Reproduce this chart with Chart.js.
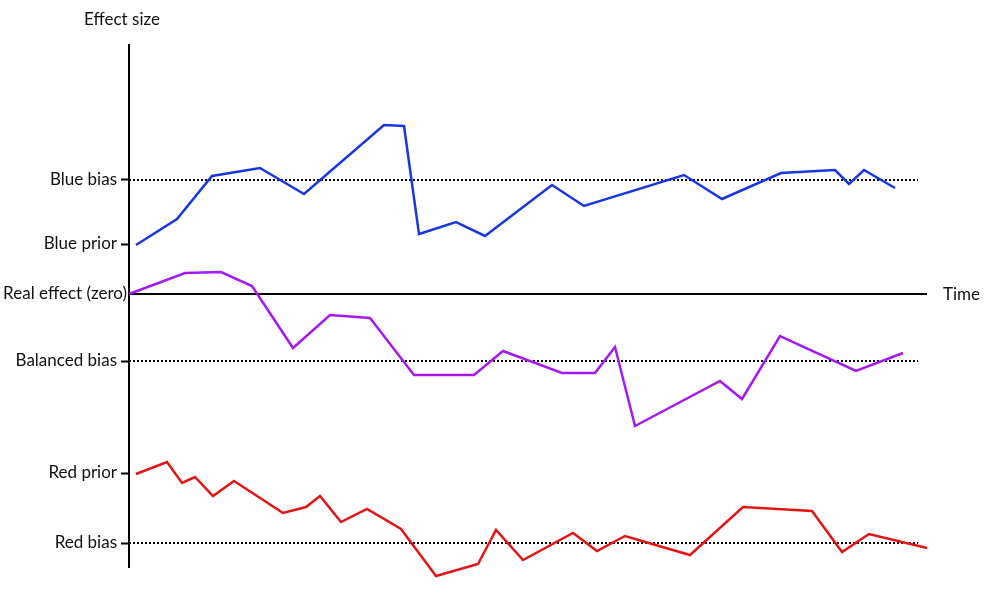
<!DOCTYPE html>
<html>
<head>
<meta charset="utf-8">
<script src="https://cdn.jsdelivr.net/npm/chart.js@4/dist/chart.umd.min.js"></script>
<style>
html, body { margin: 0; padding: 0; background: #fff; }
#wrap { width: 990px; height: 600px; position: relative; }
</style>
</head>
<body>
<div id="wrap"><canvas id="myChart"></canvas></div>
<script>
// time (x) and effect size (y)
const blueX = [0.7, 4.8, 8.3, 13.1, 17.5, 25.5, 27.5, 29.0, 32.7, 35.6, 42.3, 45.5, 55.5, 59.3, 65.2, 70.6, 72.0, 73.5, 76.6]
const blueY = [4.9, 7.5, 11.8, 12.6, 10.0, 16.9, 16.8, 6.0, 7.2, 5.8, 10.9, 8.8, 11.9, 9.5, 12.1, 12.4, 11.0, 12.4, 10.6]

const purpleX = [0, 5.6, 9.2, 12.3, 16.4, 20.1, 24.1, 28.5, 34.5, 37.4, 43.3, 46.6, 48.6, 50.6, 59.1, 61.3, 65.1, 72.7, 77.4]
const purpleY = [0, 2.1, 2.2, 0.8, -5.4, -2.1, -2.4, -8.1, -8.1, -5.7, -7.9, -7.9, -5.3, -13.2, -8.7, -10.5, -4.2, -7.7, -5.9]

const redX = [0.7, 3.8, 5.3, 6.6, 8.4, 10.5, 15.4, 17.7, 19.1, 21.2, 23.8, 27.2, 30.7, 34.9, 36.7, 39.4, 44.4, 46.8, 49.6, 56.1, 61.4, 68.3, 71.3, 74.0, 79.8]
const redY = [-18.0, -16.8, -18.9, -18.3, -20.2, -18.7, -21.9, -21.3, -20.2, -22.8, -21.5, -23.5, -28.2, -27.0, -23.6, -26.6, -23.9, -25.7, -24.2, -26.1, -21.3, -21.7, -25.8, -24.0, -25.4]

// y-axis ticks
const tickValues = [11.4, 5.0, 0, -6.7, -17.9, -24.9]
const tickNames = ['Blue bias', 'Blue prior', 'Real effect (zero)', 'Balanced bias', 'Red prior', 'Red bias']

// dotted bias levels
const biasLevels = [11.4, -6.7, -24.9]
const biasEnd = 78.9

const toPoints = (xs, ys) => xs.map((x, i) => ({ x: x, y: ys[i] }))

const lineSet = (xs, ys, color) => ({
    data: toPoints(xs, ys),
    borderColor: color,
    borderWidth: 2.5,
    pointRadius: 0,
    tension: 0,
    clip: false
})

const dotted = biasLevels.map(v => ({
    data: [{ x: 0, y: v }, { x: biasEnd, y: v }],
    borderColor: '#000',
    borderWidth: 2,
    borderDash: [2, 2],
    pointRadius: 0,
    clip: false
}))

const FONT = '17px Lato'

const labelsPlugin = {
    id: 'labels',
    afterDraw(chart) {
        const c = chart.ctx
        const y = chart.scales.y
        const area = chart.chartArea
        c.save()
        c.fillStyle = '#111'
        c.font = FONT
        c.textBaseline = 'middle'
        c.textAlign = 'right'
        tickValues.forEach((v, i) => {
            const py = y.getPixelForValue(v)
            const right = v === 0 ? area.left - 2 : area.left - 12
            c.fillText(tickNames[i], right, py)
        })
        c.textAlign = 'center'
        c.fillText('Effect size', 122, 20)
        c.textAlign = 'left'
        c.fillText('Time', 943, y.getPixelForValue(0) + 1)
        c.restore()
    }
}

const ctx = document.getElementById('myChart')

const myChart = new Chart(ctx, {
    type: 'line',
    data: {
        datasets: [
            lineSet(blueX, blueY, 'rgb(25, 55, 225)'),
            lineSet(purpleX, purpleY, 'rgb(165, 25, 240)'),
            lineSet(redX, redY, 'rgb(228, 20, 20)'),
            ...dotted
        ]
    },
    options: {
        responsive: true,
        maintainAspectRatio: false,
        animation: false,
        layout: { padding: { left: 0, top: 45, right: 64, bottom: 33 } },
        plugins: {
            legend: { display: false },
            tooltip: { enabled: false }
        },
        scales: {
            x: {
                type: 'linear',
                min: 0,
                max: 79.7,
                position: { y: 0 },
                ticks: { display: false },
                grid: { drawOnChartArea: false, drawTicks: false },
                border: { color: '#000', width: 2 }
            },
            y: {
                type: 'linear',
                min: -27.3,
                max: 24.9,
                afterBuildTicks: scale => { scale.ticks = tickValues.map(v => ({ value: v })) },
                afterFit: scale => { scale.width = 129 },
                ticks: { display: false },
                grid: {
                    drawOnChartArea: false,
                    tickLength: 8,
                    tickWidth: 2,
                    tickColor: c => c.tick && c.tick.value === 0 ? 'rgba(0,0,0,0)' : '#000'
                },
                border: { color: '#000', width: 2 }
            }
        }
    },
    plugins: [labelsPlugin]
})
</script>
</body>
</html>
